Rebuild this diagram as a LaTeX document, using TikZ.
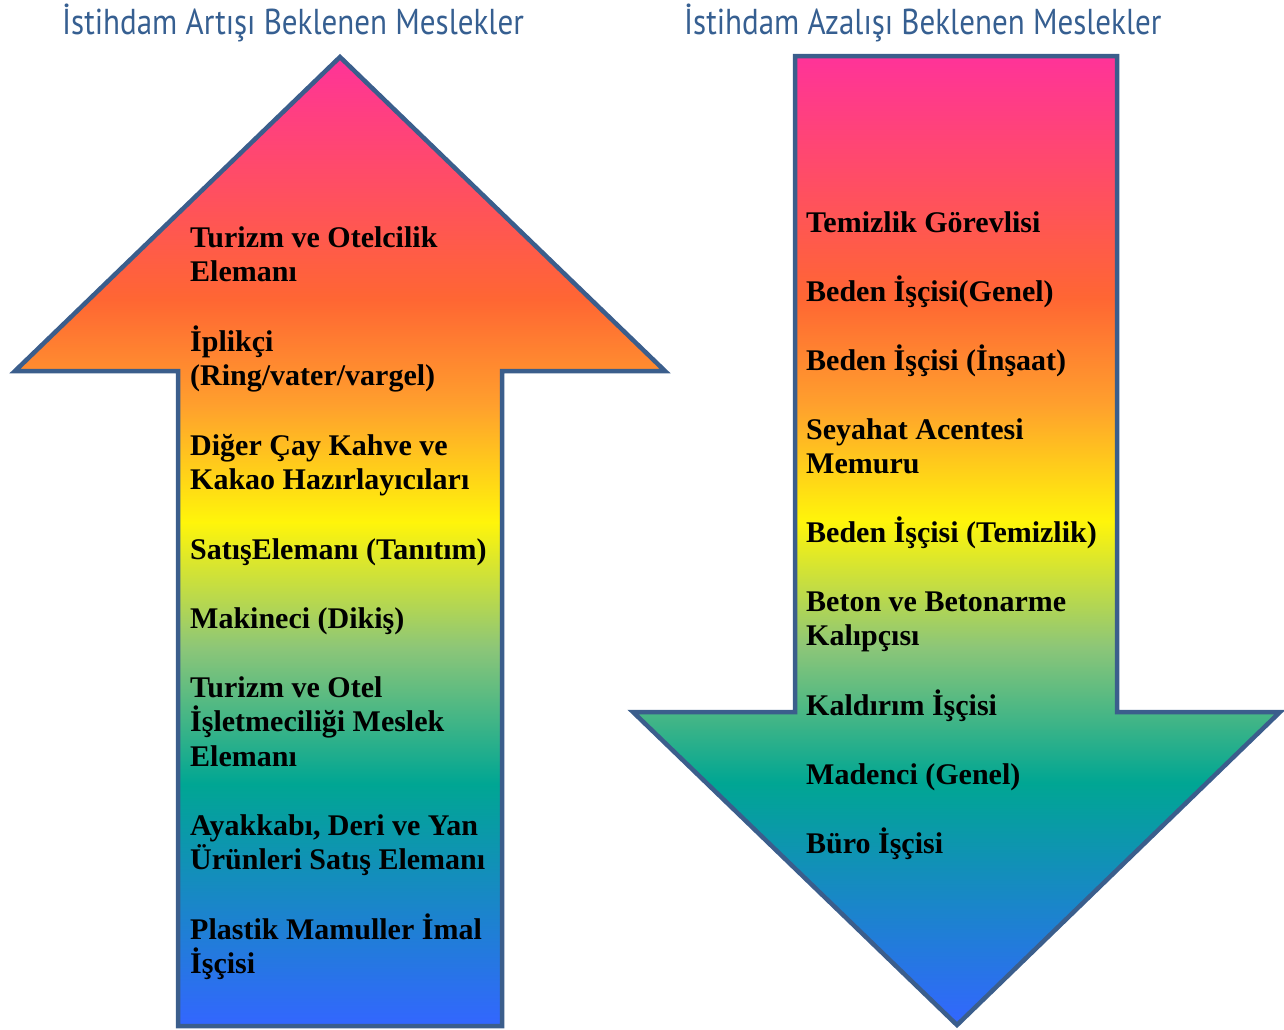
\documentclass[tikz,border=0pt]{standalone}
\usepackage{fontspec}
\setmainfont{Liberation Serif}
\newfontfamily\titlefont[FakeStretch=0.862]{PT Sans}
\usetikzlibrary{positioning}
\usetikzlibrary{calc}

\definecolor{arrowblue}{RGB}{59,94,140}
\definecolor{titleblue}{RGB}{54,95,145}
\definecolor{rbpink}{RGB}{255,51,153}
\definecolor{rbred}{RGB}{255,102,51}
\definecolor{rborange}{RGB}{255,160,45}
\definecolor{rbyellow}{RGB}{255,245,10}
\definecolor{rbgreen}{RGB}{140,198,120}
\definecolor{rbteal}{RGB}{0,166,147}
\definecolor{rbblue}{RGB}{51,102,255}
\pgfdeclareverticalshading{rainbow}{100bp}{color(0bp)=(rbblue); color(25bp)=(rbblue);
  color(37.5bp)=(rbteal); color(44.5bp)=(rbgreen); color(51bp)=(rbyellow);
  color(57bp)=(rborange); color(62.5bp)=(rbred); color(75bp)=(rbpink); color(100bp)=(rbpink)}

\begin{document}
\begin{tikzpicture}[x=1pt,y=-1pt,
    arrowshape/.style={draw=arrowblue,line width=4.5pt,shading=rainbow},
    heading/.style={anchor=base west,inner sep=0pt,text=titleblue,
      font=\titlefont\fontsize{36}{40}\selectfont},
    job/.style={anchor=north west,inner sep=0pt,align=left,
      font=\bfseries\fontsize{30}{34.5}\selectfont}]
  \useasboundingbox (0,0) rectangle (1284,1029);
  \node[heading] (upttl) at (62,34) {İstihdam Artışı Beklenen Meslekler};
  \node[heading] (downttl) at (684,34) {İstihdam Azalışı Beklenen Meslekler};

  % up
  \path[arrowshape] (340,57) -- (665,371) -- (502,371) -- (502,1026) -- (178,1026)
    -- (178,371) -- (15,371) -- cycle;
  % down
  \path[arrowshape] (795,56) -- (1117,56) -- (1117,712) -- (1280,712) -- (957,1025)
    -- (633,712) -- (795,712) -- cycle;

  \node[job] (up1) at (190,219) {\rule{0pt}{28pt}Turizm ve Otelcilik\\Elemanı};
  \node[job] (up2) at (190,323) {\rule{0pt}{28pt}İplikçi\\(Ring/vater/vargel)};
  \node[job] (up3) at (190,427) {\rule{0pt}{28pt}Diğer Çay Kahve ve\\Kakao Hazırlayıcıları};
  \node[job] (up4) at (190,531) {\rule{0pt}{28pt}SatışElemanı (Tanıtım)};
  \node[job] (up5) at (190,600) {\rule{0pt}{28pt}Makineci (Dikiş)};
  \node[job] (up6) at (190,669) {\rule{0pt}{28pt}Turizm ve Otel\\İşletmeciliği Meslek\\Elemanı};
  \node[job] (up7) at (190,807) {\rule{0pt}{28pt}Ayakkabı, Deri ve Yan\\Ürünleri Satış Elemanı};
  \node[job] (up8) at (190,911) {\rule{0pt}{28pt}Plastik Mamuller İmal\\İşçisi};

  \node[job] (dn1) at (806,204) {\rule{0pt}{28pt}Temizlik Görevlisi};
  \node[job] (dn2) at (806,273) {\rule{0pt}{28pt}Beden İşçisi(Genel)};
  \node[job] (dn3) at (806,342) {\rule{0pt}{28pt}Beden İşçisi (İnşaat)};
  \node[job] (dn4) at (806,411) {\rule{0pt}{28pt}Seyahat Acentesi\\Memuru};
  \node[job] (dn5) at (806,514) {\rule{0pt}{28pt}Beden İşçisi (Temizlik)};
  \node[job] (dn6) at (806,583) {\rule{0pt}{28pt}Beton ve Betonarme\\Kalıpçısı};
  \node[job] (dn7) at (806,687) {\rule{0pt}{28pt}Kaldırım İşçisi};
  \node[job] (dn8) at (806,756) {\rule{0pt}{28pt}Madenci (Genel)};
  \node[job] (dn9) at (806,825) {\rule{0pt}{28pt}Büro İşçisi};
\end{tikzpicture}
\end{document}
